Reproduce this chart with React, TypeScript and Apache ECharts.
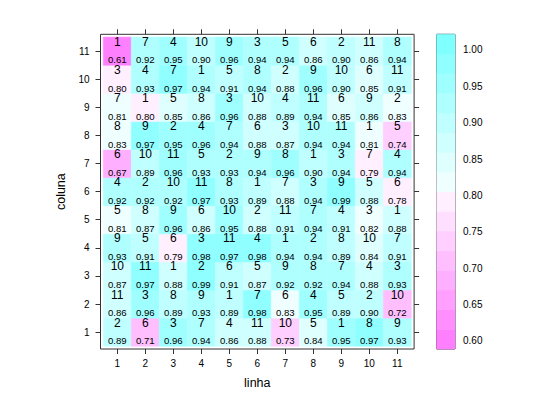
import { useEffect, useRef } from "react";
import * as echarts from "echarts";

// linha (x) and coluna (y) levels
const linha = [1, 2, 3, 4, 5, 6, 7, 8, 9, 10, 11];
const coluna = [1, 2, 3, 4, 5, 6, 7, 8, 9, 10, 11];

// treatment number in each cell, one array per coluna (row 1 = bottom)
const tratamentos: number[][] = [
  [2, 6, 3, 7, 4, 11, 10, 5, 1, 8, 9],
  [11, 3, 8, 9, 1, 7, 6, 4, 5, 2, 10],
  [10, 11, 1, 2, 6, 5, 9, 8, 7, 4, 3],
  [9, 5, 6, 3, 11, 4, 1, 2, 8, 10, 7],
  [5, 8, 9, 6, 10, 2, 11, 7, 4, 3, 1],
  [4, 2, 10, 11, 8, 1, 7, 3, 9, 5, 6],
  [6, 10, 11, 5, 2, 9, 8, 1, 3, 7, 4],
  [8, 9, 2, 4, 7, 6, 3, 10, 11, 1, 5],
  [7, 1, 5, 8, 3, 10, 4, 11, 6, 9, 2],
  [3, 4, 7, 1, 5, 8, 2, 9, 10, 6, 11],
  [1, 7, 4, 10, 9, 3, 5, 6, 2, 11, 8],
];

// response value in each cell, one array per coluna (row 1 = bottom)
const valores: number[][] = [
  [0.89, 0.71, 0.96, 0.94, 0.86, 0.88, 0.73, 0.84, 0.95, 0.97, 0.93],
  [0.86, 0.96, 0.89, 0.93, 0.89, 0.98, 0.83, 0.95, 0.89, 0.9, 0.72],
  [0.87, 0.97, 0.88, 0.99, 0.91, 0.87, 0.92, 0.92, 0.94, 0.88, 0.93],
  [0.93, 0.91, 0.79, 0.98, 0.97, 0.98, 0.94, 0.94, 0.89, 0.84, 0.91],
  [0.81, 0.87, 0.96, 0.86, 0.95, 0.88, 0.91, 0.94, 0.91, 0.82, 0.88],
  [0.92, 0.92, 0.92, 0.97, 0.93, 0.89, 0.88, 0.94, 0.99, 0.88, 0.78],
  [0.67, 0.89, 0.96, 0.93, 0.93, 0.94, 0.96, 0.9, 0.94, 0.79, 0.94],
  [0.83, 0.97, 0.95, 0.96, 0.94, 0.88, 0.87, 0.94, 0.94, 0.81, 0.74],
  [0.81, 0.8, 0.85, 0.86, 0.96, 0.88, 0.89, 0.94, 0.85, 0.86, 0.83],
  [0.8, 0.93, 0.97, 0.94, 0.91, 0.94, 0.88, 0.96, 0.9, 0.85, 0.91],
  [0.61, 0.92, 0.95, 0.9, 0.96, 0.94, 0.94, 0.86, 0.9, 0.86, 0.94],
];

// colour key
const keyMin = 0.5886;
const keyMax = 1.0216;
const keyTicks = [0.6, 0.65, 0.7, 0.75, 0.8, 0.85, 0.9, 0.95, 1.0];
const palette = [
  "#FF80FF", "#FF8FFF", "#FF9FFF", "#FFAFFF", "#FFBFFF", "#FFCFFF", "#FFDFFF", "#FFEFFF",
  "#EFFFFF", "#DFFFFF", "#CFFFFF", "#BFFFFF", "#AFFFFF", "#9FFFFF", "#8FFFFF", "#80FFFF",
];

const FONT = "'Liberation Sans', Arial, Helvetica, sans-serif";
const AXIS_COLOR = "#333";

export default function App() {
  const ref = useRef<HTMLDivElement>(null);

  useEffect(() => {
    const chart = echarts.init(ref.current!, null, { renderer: "svg" });
    const nBands = palette.length;
    const bandW = (keyMax - keyMin) / nBands;
    const colorFor = (v: number) => {
      let i = Math.floor((v - keyMin) / bandW);
      if (i < 0) i = 0;
      if (i > nBands - 1) i = nBands - 1;
      return palette[i];
    };

    const cells: any[] = [];
    coluna.forEach((cy, r) => {
      linha.forEach((cx, c) => {
        cells.push([cx, cy, valores[r][c], tratamentos[r][c]]);
      });
    });

    const bands = palette.map((col, i) => [keyMin + i * bandW, keyMin + (i + 1) * bandW, i]);

    const tickStyle = { show: true, length: 5, inside: false, lineStyle: { color: AXIS_COLOR, width: 1 } };

    const option: any = {
      animation: false,
      backgroundColor: "#fff",
      textStyle: { fontFamily: FONT },
      grid: [
        { left: 100.5, right: 125.9, top: 34.3, bottom: 51, show: true, borderColor: AXIS_COLOR, borderWidth: 1, backgroundColor: "transparent" },
        { left: 436.7, right: 85, top: 34.3, bottom: 51, show: true, borderColor: AXIS_COLOR, borderWidth: 1, backgroundColor: "transparent" },
      ],
      xAxis: [
        {
          gridIndex: 0, type: "value", min: 0.4, max: 11.6, position: "bottom",
          axisLine: { show: false }, splitLine: { show: false },
          axisTick: { ...tickStyle, customValues: linha },
          axisLabel: { customValues: linha, fontSize: 10, color: "#000", fontFamily: FONT, margin: 9 },
          name: "linha", nameLocation: "middle", nameGap: 27,
          nameTextStyle: { fontSize: 12.5, color: "#000", fontFamily: FONT },
        },
        {
          gridIndex: 0, type: "value", min: 0.4, max: 11.6, position: "top",
          axisLine: { show: false }, splitLine: { show: false },
          axisTick: { ...tickStyle, customValues: linha },
          axisLabel: { show: false },
        },
        {
          gridIndex: 1, type: "value", min: 0, max: 1, show: false,
        },
      ],
      yAxis: [
        {
          gridIndex: 0, type: "value", min: 0.4, max: 11.6, position: "left",
          axisLine: { show: false }, splitLine: { show: false },
          axisTick: { ...tickStyle, customValues: coluna },
          axisLabel: { customValues: coluna, fontSize: 10, color: "#000", fontFamily: FONT, margin: 11 },
          name: "coluna", nameLocation: "middle", nameGap: 31,
          nameTextStyle: { fontSize: 12.5, color: "#000", fontFamily: FONT },
        },
        {
          gridIndex: 0, type: "value", min: 0.4, max: 11.6, position: "right",
          axisLine: { show: false }, splitLine: { show: false },
          axisTick: { ...tickStyle, customValues: coluna },
          axisLabel: { show: false },
        },
        {
          gridIndex: 1, type: "value", min: keyMin, max: keyMax, position: "right",
          axisLine: { show: false }, splitLine: { show: false },
          axisTick: { show: true, length: 4, inside: false, customValues: keyTicks, lineStyle: { color: AXIS_COLOR } },
          axisLabel: {
            customValues: keyTicks, fontSize: 10, color: "#000", fontFamily: FONT, margin: 8,
            formatter: (v: number) => v.toFixed(2),
          },
        },
      ],
      series: [
        {
          type: "custom",
          xAxisIndex: 0,
          yAxisIndex: 0,
          data: cells,
          z: 1,
          renderItem: (params: any, api: any) => {
            const x = api.value(0);
            const y = api.value(1);
            const v = api.value(2);
            const n = api.value(3);
            const c = api.coord([x, y]);
            const s = api.size([1, 1]);
            const fill = colorFor(v);
            return {
              type: "group",
              children: [
                {
                  type: "rect",
                  shape: { x: c[0] - s[0] / 2, y: c[1] - s[1] / 2, width: s[0], height: s[1] },
                  style: { fill, stroke: fill, lineWidth: 0.6 },
                },
                {
                  type: "text",
                  x: c[0],
                  y: c[1] - 9.5,
                  style: { text: String(n), fill: "#000", font: `12px ${FONT}`, align: "center", verticalAlign: "middle" },
                  z2: 5,
                },
                {
                  type: "text",
                  x: c[0],
                  y: c[1] + 8.8,
                  style: { text: v.toFixed(2), fill: "#000", font: `9.6px ${FONT}`, align: "center", verticalAlign: "middle" },
                  z2: 5,
                },
              ],
            };
          },
        },
        {
          type: "custom",
          xAxisIndex: 2,
          yAxisIndex: 2,
          data: bands,
          z: 1,
          renderItem: (params: any, api: any) => {
            const lo = api.value(0);
            const hi = api.value(1);
            const i = api.value(2);
            const p0 = api.coord([0, lo]);
            const p1 = api.coord([1, hi]);
            const fill = palette[i];
            return {
              type: "rect",
              shape: { x: p0[0], y: p1[1], width: p1[0] - p0[0], height: p0[1] - p1[1] },
              style: { fill, stroke: fill, lineWidth: 0.6 },
            };
          },
        },
      ],
    };

    chart.setOption(option);
    return () => chart.dispose();
  }, []);

  return (
    <div
      ref={ref}
      style={{ position: "fixed", left: 0, top: 0, width: 540, height: 400, background: "#fff" }}
    />
  );
}
